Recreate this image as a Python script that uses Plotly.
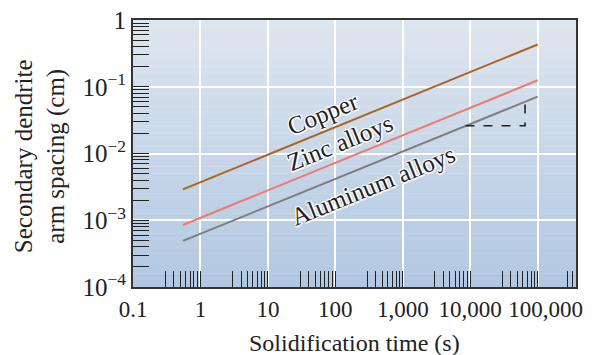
import plotly.graph_objects as go
import numpy as np

# ---- data ----
time_s = [0.55, 100000]
copper = [0.0029, 0.43]
zinc = [0.00085, 0.125]
aluminum = [0.00049, 0.071]

tri_x = [8500, 65000, 65000]
tri_y = [0.026, 0.026, 0.059]

x_tickvals = [0.1, 1, 10, 100, 1000, 10000, 100000]
x_ticktext = ["0.1", "1", "10", "100", "1,000", "10,000", "\u2002\u2009100,000"]
y_tickvals = [1e-4, 1e-3, 1e-2, 1e-1, 1]
y_ticktext = ["10<sup>−4</sup>", "10<sup>−3</sup>", "10<sup>−2</sup>", "10<sup>−1</sup>", "1"]

FONT = "Liberation Serif"
FS = 25

fig = go.Figure()

# gradient background bands
n = 40
top = np.array([222, 230, 239])
bot = np.array([178, 200, 226])
shapes = []
for i in range(n):
    c = top + (bot - top) * (i / (n - 1))
    shapes.append(dict(type="rect", xref="paper", yref="paper",
                       x0=0, x1=1, y0=1 - (i + 1) / n, y1=1 - i / n + 0.001,
                       fillcolor=f"rgb({int(c[0])},{int(c[1])},{int(c[2])})",
                       line=dict(width=0), layer="below"))

fig.add_trace(go.Scatter(x=time_s, y=copper, mode="lines",
                         line=dict(color="#b0621f", width=2)))
fig.add_trace(go.Scatter(x=time_s, y=zinc, mode="lines",
                         line=dict(color="#ee7a6c", width=2)))
fig.add_trace(go.Scatter(x=time_s, y=aluminum, mode="lines",
                         line=dict(color="#7d7d7d", width=2)))
fig.add_trace(go.Scatter(x=tri_x, y=tri_y, mode="lines",
                         line=dict(color="#222222", width=1.6, dash="dash")))

# line labels with light halo
labels = [("Copper", 0.430, 0.648), ("Zinc alloys", 0.468, 0.540),
          ("Aluminum alloys", 0.542, 0.380)]
annotations = []
for txt, xp, yp in labels:
    for dx, dy in [(-1, -1), (1, 1), (-1, 1), (1, -1), (0, 1.5), (0, -1.5), (1.5, 0), (-1.5, 0)]:
        annotations.append(dict(text=txt, x=xp, y=yp, xref="paper", yref="paper",
                                showarrow=False, textangle=-22,
                                xshift=dx, yshift=dy,
                                font=dict(family=FONT, size=FS, color="rgba(255,255,255,0.85)")))
    annotations.append(dict(text=txt, x=xp, y=yp, xref="paper", yref="paper",
                            showarrow=False, textangle=-22,
                            font=dict(family=FONT, size=FS, color="#222222")))

annotations.append(dict(text="Secondary dendrite<br>arm spacing (cm)",
                        x=-0.21, y=0.49, xref="paper", yref="paper",
                        showarrow=False, textangle=-90,
                        xanchor="center", yanchor="middle",
                        font=dict(family=FONT, size=FS, color="#222222")))
annotations.append(dict(text="Solidification time (s)",
                        x=0.50, y=-0.208, xref="paper", yref="paper",
                        showarrow=False, xanchor="center", yanchor="middle",
                        font=dict(family=FONT, size=FS - 1, color="#222222")))

x_minor = [k * 10.0 ** e for e in range(-1, 5) for k in range(3, 10)] + [2.8e5, 3.3e5]
y_minor = [k * 10.0 ** e for e in range(-4, 0) for k in range(2, 10)]

# page body has an 8px margin: compensate so plot lands where the reference has it
fig.update_layout(
    width=588, height=347,
    margin=dict(l=125, r=20, t=12, b=68),
    paper_bgcolor="white",
    plot_bgcolor="rgba(0,0,0,0)",
    showlegend=False,
    shapes=shapes,
    annotations=annotations,
    font=dict(family=FONT, size=FS, color="#222222"),
)
fig.update_xaxes(type="log", range=[-1, np.log10(3.7e5)],
                 tickmode="array", tickvals=x_tickvals, ticktext=x_ticktext,
                 tickangle=0, ticklabeloverflow="allow",
                 ticks="inside", ticklen=16, tickcolor="#222", tickwidth=1.2,
                 showgrid=True, gridcolor="white", gridwidth=1.5,
                 showline=True, linecolor="#333", linewidth=2, mirror=True,
                 zeroline=False, automargin=False,
                 tickfont=dict(family=FONT, size=23, color="#222"),
                 minor=dict(tickmode="array", tickvals=x_minor, ticks="inside",
                            ticklen=16, tickcolor="#222", tickwidth=1.2, showgrid=False))
fig.update_yaxes(type="log", range=[-4, 0],
                 tickmode="array", tickvals=y_tickvals, ticktext=y_ticktext,
                 ticklabeloverflow="allow",
                 ticks="inside", ticklen=16, tickcolor="#222", tickwidth=1.2,
                 showgrid=True, gridcolor="white", gridwidth=1.5,
                 showline=True, linecolor="#333", linewidth=2, mirror=True,
                 zeroline=False, automargin=False,
                 tickfont=dict(family=FONT, size=FS, color="#222"),
                 minor=dict(tickmode="array", tickvals=y_minor, ticks="inside",
                            ticklen=16, tickcolor="#222", tickwidth=1.2, showgrid=False))

fig.write_html("out.html")
